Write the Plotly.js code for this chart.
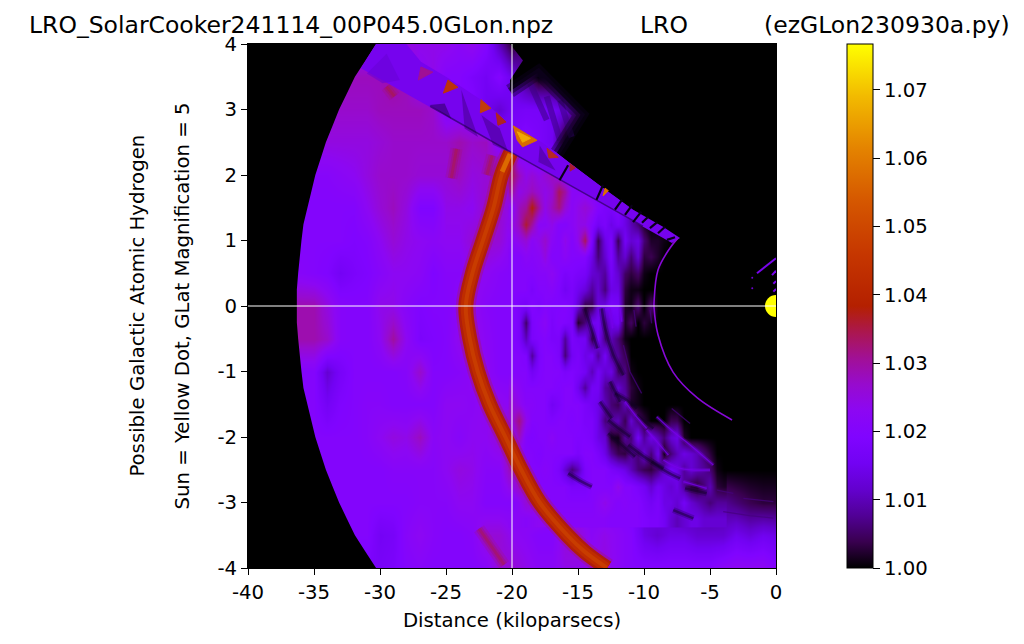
<!DOCTYPE html>
<html><head><meta charset="utf-8">
<script src="https://cdn.plot.ly/plotly-3.0.1.min.js"></script>
<style>html,body{margin:0;padding:0;background:#fff}#c{width:1024px;height:644px}</style>
</head><body><div id="c"></div>
<script>
const gridX=[-40,-39,-38,-37,-36,-35,-34,-33,-32,-31,-30,-29,-28,-27,-26,-25,-24,-23,-22,-21,-20,-19,-18,-17,-16,-15,-14,-13,-12,-11,-10,-9,-8,-7,-6,-5,-4,-3,-2,-1,0];
const gridY=[-4,-3.5,-3,-2.5,-2,-1.5,-1,-0.5,0,0.5,1,1.5,2,2.5,3,3.5,4];
const rowM40=[1.018,1.018,1.018,1.018,1.018,1.018,1.018,1.018,1.018,1.018,1.017,1.018,1.02,1.021,1.02,1.02,1.02,1.02,1.021,1.026, 1.026,1.024,1.022,1.022,1.024,1.024,1.024,1.025,1.022,1.02,1.02,1.02,1.02,1.02,1.02,1.02,1.022,1.023,1.023,1.023,1.02];
const rowM35=[1.02,1.02,1.02,1.02,1.02,1.02,1.02,1.02,1.02,1.02,1.016,1.017,1.021,1.023,1.021,1.02,1.02,1.021,1.026,1.026, 1.023,1.022,1.02,1.02,1.026,1.026,1.022,1.024,1.022,1.02,1.014,1.012,1.014,1.014,1.012,1.012,1.012,1.015,1.013,1.015,1.014];
const rowM30=[1.02,1.02,1.02,1.02,1.02,1.02,1.02,1.02,1.02,1.02,1.02,1.02,1.02,1.021,1.021,1.021,1.023,1.023,1.02,1.02, 1.02,1.022,1.026,1.022,1.02,1.02,1.02,1.02,1.02,1.018,1.012,1.014,1.01,1.006,1.008,1.006,1.008,1.006,1.004,1.003,1.003];
const rowM25=[1.02,1.02,1.02,1.02,1.02,1.02,1.02,1.02,1.02,1.02,1.02,1.021,1.021,1.021,1.021,1.023,1.025,1.024,1.021,1.021, 1.03,1.03,1.02,1.021,1.02,1.016,1.018,1.02,1.018,1.016,1.014,1.012,1.012,1.01,1.004,1,1,1,1,1,1];
const rowM20=[1.02,1.02,1.02,1.02,1.02,1.02,1.02,1.02,1.02,1.021,1.023,1.025,1.024,1.028,1.022,1.023,1.021,1.023,1.023,1.026, 1.03,1.03,1.02,1.02,1.02,1.02,1.018,1.018,1.016,1.016,1.016,1.014,1.008,1,1,1,1,1,1,1,1];
const rowM15=[1.02,1.02,1.02,1.02,1.02,1.02,1.016,1.019,1.02,1.021,1.021,1.02,1.02,1.02,1.02,1.023,1.023,1.022,1.024,1.024, 1.022,1.024,1.02,1.02,1.02,1.02,1.018,1.02,1.018,1.016,1.012,1.006,1,1,1,1,1,1,1,1,1];
const rowM10=[1.02,1.02,1.02,1.02,1.02,1.02,1.012,1.017,1.02,1.02,1.02,1.02,1.021,1.027,1.02,1.02,1.021,1.023,1.023,1.02, 1.02,1.018,1.02,1.02,1.02,1.02,1.018,1.018,1.016,1.01,1.002,1,1,1,1,1,1,1,1,1,1];
const rowM05=[1.029,1.029,1.029,1.029,1.029,1.029,1.027,1.021,1.02,1.02,1.023,1.03,1.023,1.018,1.019,1.02,1.024,1.025,1.022,1.02, 1.02,1.018,1.02,1.02,1.02,1.018,1.018,1.018,1.016,1.008,1.001,1,1,1,1,1,1,1,1,1,1];
const rowP00=[1.029,1.029,1.029,1.029,1.029,1.029,1.025,1.021,1.02,1.02,1.024,1.024,1.021,1.019,1.02,1.02,1.022,1.024,1.021,1.02, 1.02,1.02,1.02,1.02,1.02,1.016,1.016,1.016,1.012,1.003,1.002,1,1,1,1,1,1,1,1,1,1];
const rowP05=[1.021,1.021,1.021,1.021,1.021,1.02,1.019,1.016,1.018,1.019,1.021,1.023,1.023,1.022,1.019,1.021,1.021,1.024,1.023,1.021, 1.02,1.02,1.02,1.02,1.02,1.018,1.016,1.012,1.012,1.006,1.002,1,1,1,1,1,1,1,1,1,1];
const rowP10=[1.02,1.02,1.02,1.02,1.02,1.02,1.02,1.02,1.019,1.02,1.023,1.026,1.024,1.023,1.022,1.023,1.023,1.026,1.027,1.026, 1.021,1.026,1.024,1.021,1.021,1.024,1.024,1.016,1.016,1.012,1.006,1.002,1,1,1,1,1,1,1,1,1];
const rowP15=[1.02,1.02,1.02,1.02,1.02,1.02,1.02,1.02,1.02,1.023,1.026,1.028,1.025,1.019,1.019,1.024,1.024,1.023,1.027,1.027, 1.023,1.028,1.025,1.026,1.02,1.022,1.02,1.018,1.012,1.005,1,1,1,1,1,1,1,1,1,1,1];
const rowP20=[1.021,1.021,1.021,1.021,1.021,1.021,1.021,1.022,1.023,1.025,1.027,1.027,1.027,1.026,1.026,1.026,1.028,1.025,1.026,1.03, 1.026,1.022,1.026,1.022,1.02,1.02,1,1,1,1,1,1,1,1,1,1,1,1,1,1,1];
const rowP25=[1.025,1.025,1.025,1.025,1.025,1.025,1.025,1.025,1.025,1.025,1.026,1.027,1.027,1.027,1.027,1.027,1.029,1.027,1.028,1.02, 1.018,1.02,1.018,1.015,1,1,1,1,1,1,1,1,1,1,1,1,1,1,1,1,1];
const rowP30=[1.027,1.027,1.027,1.027,1.027,1.027,1.027,1.027,1.027,1.027,1.028,1.028,1.028,1.028,1.027,1.02,1.02,1.02,1.015,1.012, 1.016,1.017,1.017,1.016,1.013,1.005,1,1,1,1,1,1,1,1,1,1,1,1,1,1,1];
const rowP35=[1.028,1.028,1.028,1.028,1.028,1.028,1.028,1.028,1.028,1.028,1.028,1.03,1.028,1.022,1.024,1.02,1.02,1.018,1.016,1.02, 1.014,1.006,1,1,1,1,1,1,1,1,1,1,1,1,1,1,1,1,1,1,1];
const rowP40=[1.022,1.022,1.022,1.022,1.022,1.022,1.022,1.022,1.022,1.022,1.024,1.025,1.025,1.024,1.024,1.024,1.022,1.024,1.02,1.01, 1.002,1.008,1,1,1,1,1,1,1,1,1,1,1,1,1,1,1,1,1,1,1];
const zRows=[rowM40,rowM35,rowM30,rowM25,rowM20,rowM15,rowM10,rowM05,rowP00,rowP05,rowP10,rowP15,rowP20,rowP25,rowP30,rowP35,rowP40];

// Fine grid over the streaky part, values in thousandths above 1
const fineX=[-20,-19.5,-19,-18.5,-18,-17.5,-17,-16.5,-16,-15.5,-15,-14.5,-14,-13.5,-13,-12.5,-12,-11.5,-11,-10.5,-10,-9.5,-9,-8.5,-8,-7.5,-7,-6.5,-6,-5.5,-5,-4.5,-4];
const fineY=[-3.25,-3,-2.75,-2.5,-2.25,-2,-1.75,-1.5,-1.25,-1,-0.75,-0.5,-0.25,0,0.25,0.5,0.75,1,1.25,1.5,1.75,2,2.25];
const fM325=[22,22,21,22,23,23,22,21,21,21,21,21,21,21,21,20,20,20,20,20,19,18,18,16,12,10,12,14,14,12,12,12,12];
const fM300=[20,22,26,26,24,22,20,20,20,20,20,20,20,22,24,22,20,21,20,20,18,16,18,14,14,12,16,12,10,8,6,8,8];
const fM275=[24,28,26,22,20,20,20,20,20,18,18,18,20,20,20,20,24,20,20,18,16,12,16,14,12,14,8,3,2,6,10,3,2];
const fM250=[28,26,22,20,20,21,20,18,12,6,10,18,20,20,20,18,16,14,10,6,4,3,6,12,16,14,8,12,10,8,6,1,0];
const fM225=[26,22,20,20,19,20,20,20,20,20,18,20,20,18,14,8,4,3,8,6,12,6,14,1,6,10,14,12,10,6,3,0,0];
const fM200=[22,28,20,19,20,20,22,20,20,20,19,19,18,14,12,2,1,8,6,16,8,14,10,6,12,14,2,0,0,0,0,0,0];
const fM175=[26,32,24,20,20,20,19,20,20,19,20,18,18,14,6,8,10,4,12,6,3,0,0,0,4,4,0,0,0,0,0,0,0];
const fM150=[26,24,21,21,20,20,16,18,20,20,20,18,16,14,10,6,4,10,2,1,0,0,0,0,0,0,0,0,0,0,0,0,0];
const fM125=[24,22,20,20,20,20,20,19,20,20,15,8,16,16,8,6,12,8,3,1,0,0,0,0,0,0,0,0,0,0,0,0,0];
const fM100=[20,20,20,16,19,20,20,20,18,19,18,16,10,16,12,14,5,7,1,0,0,0,0,0,0,0,0,0,0,0,0,0,0];
const fM075=[20,20,19,8,18,20,20,18,6,16,18,14,16,8,16,8,8,4,0,0,0,0,0,0,0,0,0,0,0,0,0,0,0];
const fM050=[20,18,10,18,19,20,18,18,8,18,16,16,4,16,6,10,6,1,0,0,0,0,0,0,0,0,0,0,0,0,0,0,0];
const fM025=[20,18,5,18,20,22,18,20,19,18,2,6,15,16,8,14,16,2,5,0,3,1,0,0,0,0,0,0,0,0,0,0,0];
const fP000=[20,18,17,20,18,20,19,19,20,18,12,3,4,13,14,18,17,2,1,6,0,6,0,0,0,0,0,0,0,0,0,0,0];
const fP025=[20,20,20,18,20,20,21,19,16,18,15,13,8,12,6,14,14,3,1,1,0,0,0,0,0,0,0,0,0,0,0,0,0];
const fP050=[20,20,20,20,21,21,23,20,18,19,18,17,12,11,8,16,12,5,3,5,1,0,0,0,0,0,0,0,0,0,0,0,0];
const fP075=[20,20,22,21,22,25,20,20,22,20,20,20,14,6,12,18,8,12,6,12,3,4,2,0,0,0,0,0,0,0,0,0,0];
const fP100=[22,24,26,22,24,27,22,20,24,20,24,34,18,4,14,18,4,16,12,14,6,2,2,1,0,0,0,0,0,0,0,0,0];
const fP125=[24,28,36,30,22,22,24,20,20,22,24,24,20,16,18,14,17,14,10,6,2,0,0,0,0,0,0,0,0,0,0,0,0];
const fP150=[22,28,30,38,30,24,28,32,26,22,24,26,24,20,18,18,20,14,8,2,0,0,0,0,0,0,0,0,0,0,0,0,0];
const fP175=[30,24,26,28,26,24,26,34,30,22,22,22,20,20,18,14,12,6,0,0,0,0,0,0,0,0,0,0,0,0,0,0,0];
const fP200=[34,28,24,26,24,26,28,24,22,20,20,20,20,20,18,10,0,0,0,0,0,0,0,0,0,0,0,0,0,0,0,0,0];
const fP225=[34,22,22,20,20,20,20,20,20,20,20,20,20,20,0,0,0,0,0,0,0,0,0,0,0,0,0,0,0,0,0,0,0];
const fineRows=[fM325,fM300,fM275,fM250,fM225,fM200,fM175,fM150,fM125,fM100,fM075,fM050,fM025,fP000,fP025,fP050,fP075,fP100,fP125,fP150,fP175,fP200,fP225];

const ridgeX=[-20.1,-20.8,-21.4,-22.2,-23.0,-23.5,-23.2,-22.6,-21.7,-20.5,-19.3,-17.9,-15.8,-14.5,-12.8];
const ridgeY=[2.34,2,1.5,1,0.5,0,-0.5,-1,-1.5,-2,-2.5,-3,-3.5,-3.75,-4];
const ridgeTopX=[-20.75,-20.15];
const ridgeTopY=[2.05,2.32];
const outerX=[-40,-30.3,-31.1,-31.9,-32.5,-33.1,-33.6,-34.1,-34.5,-34.9,-35.2,-35.5,-35.8,-35.95,-36.1,-36.2,-36.3,-36.3,-36.3,-36.2,-36.1,-35.95,-35.8,-35.5,-35.2,-34.9,-34.5,-34.1,-33.6,-33.1,-32.5,-31.9,-31.1,-30.3,-40];
const outerY=[4,4,3.75,3.5,3.25,3,2.75,2.5,2.25,2,1.75,1.5,1.25,1,0.75,0.5,0.25,0,-0.25,-0.5,-0.75,-1,-1.25,-1.5,-1.75,-2,-2.25,-2.5,-2.75,-3,-3.25,-3.5,-3.75,-4,-4];
const skyX=[-16.6,-15.6,-13.1,-10.83,-8.56,-7.27,-2,-2,0,0,-20.15,-19.17,-20.15,-20.15,-18.0,-14.8];
const skyY=[2.34,2.18,1.8,1.47,1.21,1.04,0.95,1.04,1.04,4,4,3.75,3.45,3.28,3.57,2.92];
const blobEdgeX=[-20.15,-18.0,-14.8,-16.6];
const blobEdgeY=[3.28,3.57,2.92,2.34];
const blobStripX=[-18.63,-17.37,null,-17.37,-16.36,null,-16.36,-15.48];
const blobStripY=[3.4,2.84,null,3.2,2.53,null,3.14,2.58];
const bandX=[-31.44,-20.08,-10.08,-7.88,-7.27,-8.56,-10.83,-13.1,-15.6,-17.65,-20.15,-22.35,-24.85,-26.9,-28.0,-30.3];
const bandY=[3.63,2.34,1.21,0.96,1.04,1.21,1.47,1.8,2.18,2.49,2.79,3.15,3.48,3.73,4,4];
const bandShades=[
 {x:[-31,-29.5,-28.5,-29.8],y:[3.55,3.85,3.45,3.4],c:'rgba(105,1,215,0.6)'},
 {x:[-26.24,-24.6,-25.1],y:[3.07,2.86,3.09],c:'rgba(60,0,125,0.7)'},
 {x:[-23.84,-23.59,-22.58],y:[3.3,2.71,2.58],c:'rgba(75,0,150,0.6)'},
 {x:[-22.32,-21.44,-20.3,-20.93],y:[2.915,2.46,2.355,2.71],c:'rgba(75,0,150,0.6)'},
 {x:[-18.0,-16.7,-17.9],y:[2.2,2.07,2.45],c:'rgba(75,0,150,0.6)'}
];
const facets=[
 {x:[-19.9,-18.1,-19.2,-19.6],y:[2.75,2.53,2.43,2.53],c:'rgb(216,108,0)'},
 {x:[-19.6,-18.6,-19.2],y:[2.66,2.56,2.5],c:'rgb(240,168,0)'},
 {x:[-17.35,-16.5,-17.2],y:[2.41,2.27,2.26],c:'rgb(184,42,32)'},
 {x:[-15.6,-15.2,-15.6],y:[2.17,2.11,2.06],c:'rgb(170,30,48)'},
 {x:[-12.95,-12.7,-13.1],y:[1.8,1.76,1.68],c:'rgb(220,112,0)'},
 {x:[-24.85,-24.1,-25.2],y:[3.45,3.34,3.25],c:'rgb(190,50,10)'},
 {x:[-22.35,-21.6,-22.4],y:[3.15,3.02,2.95],c:'rgb(195,60,10)'},
 {x:[-21.2,-20.45,-21.06],y:[2.95,2.81,2.76],c:'rgb(175,35,32)'},
 {x:[-26.9,-26.0,-27.1],y:[3.65,3.57,3.45],c:'rgb(160,15,150)'}
];
const bandEdgeX=[-26.2,-20.08,-10.08];
const bandEdgeY=[3.05,2.35,1.22];
const gapX=[-16.4,-15.75,null,-13.6,-13.1,null,-12.2,-11.67,null,-11.44,-10.9,null,-10.83,-10.2,null,-10.15,-9.7,null,-9.55,-9.0,null,-8.94,-8.4,null,-8.26,-7.65];
const gapY=[1.92,2.15,null,1.62,1.85,null,1.47,1.62,null,1.39,1.54,null,1.28,1.44,null,1.27,1.36,null,1.19,1.28,null,1.11,1.21,null,1.01,1.05];
const arcX=[-7.42,-8.03,-8.94,-9.24,-9.24,-8.94,-7.80,-5.98,-3.33];
const arcY=[1.04,0.885,0.55,0.05,-0.02,-0.44,-1.01,-1.40,-1.74];
const darkX=[-14.47,-14.09,-13.53,null,-13.2,-12.95,-12.32,-11.56,null,-15.73,-14.72,-13.96,null,-12.7,-11.82,-10.68,null,-12.7,-11.94,-11.06,null,-11.19,-9.8,-8.53,null,-9.42,-8.28,-7.27,null,-6.89,-5.25,null,-7.78,-6.26,null,-12.2,-11.31,-10.55,null,-10.55,-9.29,null,-12.57,-11.82,null,-13.33,-12.45];
const darkY=[-0.036,-0.29,-0.647,null,-0.036,-0.341,-0.748,-1.054,null,-2.555,-2.682,-2.759,null,-1.944,-2.097,-2.3,null,-1.741,-1.868,-1.995,null,-2.122,-2.326,-2.479,null,-2.377,-2.53,-2.631,null,-2.784,-2.86,null,-3.115,-3.242,null,-1.334,-1.435,-1.563,null,-1.664,-1.868,null,-1.155,-1.461,null,-1.461,-1.715];
const brightX=[-9.04,-7.78,-6.51,-4.75,null,-11.44,-10.68,-9.8,null,-9.8,-8.91,-8.15,null,-8.53,-7.27,-5,null,-7.02,-5.25,null,-12.57,-12.37,null,-11.82,-11.69];
const brightY=[-1.69,-1.919,-2.122,-2.428,null,-1.461,-1.664,-1.868,null,-1.893,-2.097,-2.275,null,-2.351,-2.479,-2.504,null,-2.682,-2.784,null,-0.036,-0.341,null,-0.036,-0.24];
const dimX=[-7.9,-6.51,null,-4.49,-3.23,null,-2.47,-0.2,null,-4,-2,-0.2,null,-11.56,-11.06,-10.18,null,-10.76,-10.6,null,-9.54,-9.42];
const dimY=[-1.563,-1.792,null,-2.81,-2.86,null,-2.937,-2.988,null,-3.14,-3.2,-3.24,null,-0.596,-1.003,-1.334,null,-0.061,-0.316,null,-0.061,-0.265];
const hotX=[-24.6,-24.2,null,-22.5,-20.6,null,-21.9,-21.5,null,-29.5,-28.9];
const hotY=[1.95,2.4,null,-3.4,-3.95,null,2.0,2.3,null,3.35,3.2];
const nearSunX=[-1.44,0,null,-0.3,0,null,-0.2,0,null,-0.2,0,null,-0.15,0];
const nearSunY=[0.5,0.73,null,0.47,0.54,null,0.34,0.38,null,0.22,0.26,null,0.1,0.13];
const dotsX=[-1.8,-1.8];
const dotsY=[0.27,0.43];
const sunX=[0];
const sunY=[0];
const xTickVals=[-40,-35,-30,-25,-20,-15,-10,-5,0];
const xTickText=['-40','-35','-30','-25','-20','-15','-10','-5','0'];
const yTickVals=[-4,-3,-2,-1,0,1,2,3,4];
const yTickText=['-4','-3','-2','-1','0','1','2','3','4'];
const cbVals=[1.00,1.01,1.02,1.03,1.04,1.05,1.06,1.07];
const cbText=['1.00','1.01','1.02','1.03','1.04','1.05','1.06','1.07'];
const gnuplotScale=[[0,'rgb(0,0,0)'],[0.05,'rgb(57,0,79)'],[0.1,'rgb(81,0,150)'],[0.15,'rgb(99,1,206)'],[0.2,'rgb(114,2,243)'],[0.25,'rgb(128,4,255)'],[0.3,'rgb(140,7,243)'],[0.35,'rgb(151,11,206)'],[0.4,'rgb(161,16,150)'],[0.45,'rgb(171,23,79)'],[0.5,'rgb(180,32,0)'],[0.6,'rgb(198,55,0)'],[0.7,'rgb(213,87,0)'],[0.8,'rgb(228,131,0)'],[0.9,'rgb(242,186,0)'],[1,'rgb(255,255,0)']];

const FONT='DejaVu Sans';
const TICK=19.7, TITLE=23.5;
function ln(x,y,c,w,shape){return {type:'scatter',mode:'lines',x:x,y:y,line:{color:c,width:w,shape:shape||'linear'},hoverinfo:'skip',showlegend:false,connectgaps:false};}
function poly(x,y,c,halo){return {type:'scatter',mode:'lines',x:x.concat([x[0]]),y:y.concat([y[0]]),fill:'toself',fillcolor:c,line:{color:c,width:halo||0},hoverinfo:'skip',showlegend:false};}
const traces=[
 {type:'heatmap',x:gridX,y:gridY,z:zRows,zmin:1,zmax:1.0767,zsmooth:'best',colorscale:gnuplotScale,hoverinfo:'skip',
  colorbar:{x:1.1345,xanchor:'left',xref:'paper',y:0,yanchor:'bottom',yref:'paper',len:1,lenmode:'fraction',thickness:26,thicknessmode:'pixels',outlinecolor:'#000',outlinewidth:1,tickmode:'array',tickvals:cbVals,ticktext:cbText,ticks:'outside',ticklen:7,tickwidth:1,tickcolor:'#000',tickfont:{family:FONT,size:TICK,color:'#000'},xpad:0,ypad:0}},
 {type:'heatmap',x:fineX,y:fineY,z:fineRows.map(r=>r.map(v=>1+v/1000)),zmin:1,zmax:1.0767,zsmooth:'best',colorscale:gnuplotScale,showscale:false,hoverinfo:'skip'},
 ln(hotX,hotY,'rgba(168,22,90,0.2)',12),
 ln(hotX,hotY,'rgba(170,24,70,0.3)',7),
 ln(hotX,hotY,'rgba(178,30,30,0.3)',3),
 ln(darkX,darkY,'rgba(15,0,35,0.22)',6,'spline'),
 ln(darkX,darkY,'rgba(15,0,35,0.45)',2.5,'spline'),
 ln(brightX,brightY,'rgba(118,0,232,0.3)',4,'spline'),
 ln(brightX,brightY,'rgba(118,0,232,0.8)',1.3,'spline'),
 ln(dimX,dimY,'rgba(70,0,125,0.75)',1.3),
 ln(ridgeX,ridgeY,'rgba(165,20,120,0.45)',20,'spline'),
 ln(ridgeX,ridgeY,'rgb(176,30,12)',15,'spline'),
 ln(ridgeX,ridgeY,'rgb(190,44,0)',10,'spline'),
 ln(ridgeX,ridgeY,'rgb(200,60,0)',4,'spline'),
 ln(ridgeTopX,ridgeTopY,'rgba(228,125,0,0.7)',5),
 poly(outerX,outerY,'#000'),
 poly(skyX,skyY,'#000'),
 ln(blobStripX,blobStripY,'rgba(60,0,130,0.55)',6),
 ln(blobEdgeX,blobEdgeY,'rgba(15,0,35,0.4)',14),
 ln(blobEdgeX,blobEdgeY,'rgba(15,0,35,0.5)',7),
 poly(bandX,bandY,'rgb(118,3,238)'),
 ...bandShades.map(f=>poly(f.x,f.y,f.c)),
 ...facets.map(f=>poly(f.x,f.y,f.c,1)),
 ln(bandEdgeX,bandEdgeY,'rgba(30,0,60,0.55)',1.5),
 ln(gapX,gapY,'rgb(10,0,25)',2.2),
 ln(arcX,arcY,'rgb(135,8,215)',1.6,'spline'),
 ln(nearSunX,nearSunY,'rgb(120,5,235)',2),
 {type:'scatter',mode:'markers',x:dotsX,y:dotsY,marker:{size:2,color:'rgb(110,0,210)'},hoverinfo:'skip',showlegend:false},
 {type:'scatter',mode:'markers',x:sunX,y:sunY,marker:{size:22,color:'#ffff00',line:{width:0}},hoverinfo:'skip',showlegend:false}
];
const layout={width:1024,height:644,autosize:false,paper_bgcolor:'#fff',plot_bgcolor:'#000',showlegend:false,
 margin:{l:248,r:248,t:44,b:76,pad:0},font:{family:FONT,size:TICK,color:'#000'},
 xaxis:{range:[-40,0],tickmode:'array',tickvals:xTickVals,ticktext:xTickText,ticks:'outside',ticklen:6,tickwidth:1,tickcolor:'#000',showgrid:false,zeroline:false,showline:true,linecolor:'#000',linewidth:1,mirror:true,tickfont:{family:FONT,size:TICK},title:{text:'Distance (kiloparsecs)',font:{family:FONT,size:TICK},standoff:10},automargin:false},
 yaxis:{range:[-4,4],tickmode:'array',tickvals:yTickVals,ticktext:yTickText,ticks:'outside',ticklen:6,tickwidth:1,tickcolor:'#000',showgrid:false,zeroline:false,showline:true,linecolor:'#000',linewidth:1,mirror:true,tickfont:{family:FONT,size:TICK},title:{text:'Sun = Yellow Dot, GLat Magnification = 5',font:{family:FONT,size:TICK},standoff:22},automargin:false},
 shapes:[
  {type:'line',xref:'x',yref:'y',x0:-40,x1:0,y0:0,y1:0,line:{color:'#fff',width:1},layer:'above'},
  {type:'line',xref:'x',yref:'y',x0:-20,x1:-20,y0:-4,y1:4,line:{color:'#fff',width:1},layer:'above'}
 ],
 annotations:[
  {text:'LRO_SolarCooker241114_00P045.0GLon.npz',xref:'paper',yref:'paper',x:-0.419,y:1.0,xanchor:'left',yanchor:'bottom',yshift:3,showarrow:false,font:{family:FONT,size:TITLE}},
  {text:'LRO',xref:'paper',yref:'paper',x:0.787,y:1.0,xanchor:'center',yanchor:'bottom',yshift:3,showarrow:false,font:{family:FONT,size:TITLE}},
  {text:'(ezGLon230930a.py)',xref:'paper',yref:'paper',x:1.447,y:1.0,xanchor:'right',yanchor:'bottom',yshift:3,showarrow:false,font:{family:FONT,size:TITLE}},
  {text:'Possible Galactic Atomic Hydrogen',xref:'paper',yref:'paper',x:-0.211,y:0.5,xanchor:'center',yanchor:'middle',textangle:-90,showarrow:false,font:{family:FONT,size:TICK}}
 ]};
Plotly.newPlot('c',traces,layout,{displayModeBar:false,staticPlot:true});
</script></body></html>
